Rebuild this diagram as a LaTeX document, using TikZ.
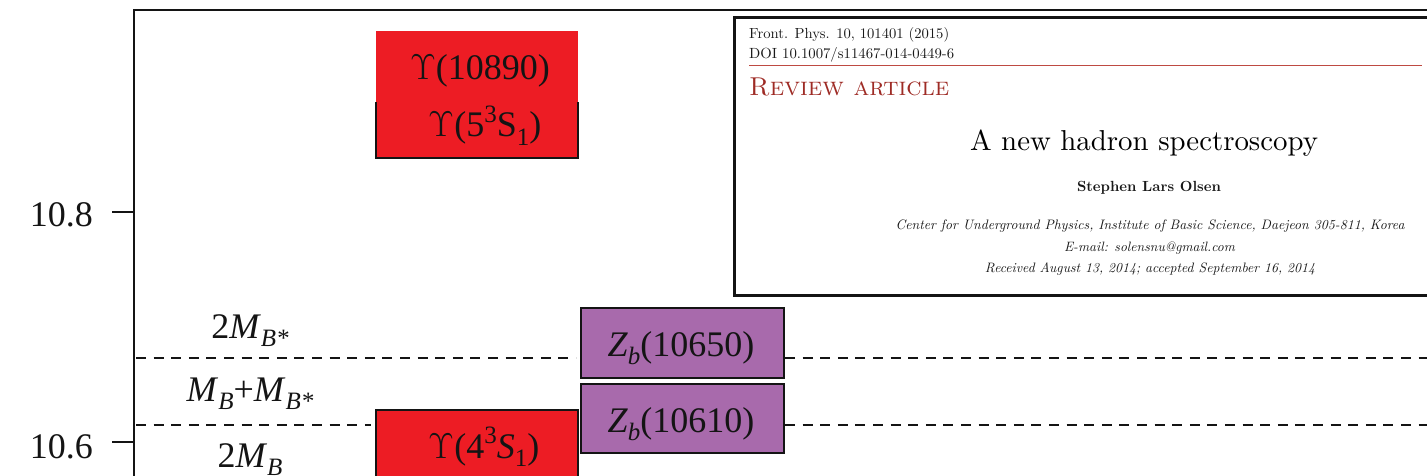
\documentclass[tikz,border=0pt]{standalone}
\usepackage{fontspec}
\usepackage{graphicx}
\newfontfamily\tnr{Liberation Serif}
\definecolor{upsred}{HTML}{ED1C24}
\definecolor{zpurple}{HTML}{A86AAC}
\definecolor{revred}{HTML}{9E2B25}
\definecolor{rulered}{HTML}{BE4A42}
\definecolor{ink}{HTML}{141414}
\newcommand{\lsub}[1]{\raisebox{-0.24em}{\fontsize{25}{25}\selectfont #1}}
\newcommand{\usup}[1]{\raisebox{0.40em}{\fontsize{25}{25}\selectfont #1}}
\newcommand{\Ups}{{\normalfont Υ}}
\begin{document}
\begin{tikzpicture}[x=1pt,y=-1pt,
  big/.style={font=\tnr\fontsize{36}{40}\selectfont, inner sep=0pt, text=ink},
  frame/.style={line width=2pt, draw=ink},
  level/.style={line width=2pt, draw=ink, dash pattern=on 10pt off 7.6pt},
  boxline/.style={line width=2pt, draw=ink},
  upsbox/.style={fill=upsred, inner sep=0pt},
  zbox/.style={fill=zpurple, draw=ink, line width=2pt, inner sep=0pt, minimum width=203pt, minimum height=70pt},
  paper/.style={inner sep=0pt, text=black!90}
]
\useasboundingbox (0,0) rectangle (1427,476);
\clip (0,0) rectangle (1427,476);

% frame
\coordinate (origin) at (134,477);
\coordinate (topleft) at (134,10);
\coordinate (topright) at (1430,10);
\draw[frame] (origin) -- (topleft) -- (topright);

% ticks
\coordinate (t8) at (134,212);
\draw[frame] (t8) -- ++(-22,0);
\node[big, anchor=base east] (l8) at (93,226) {10.8};
\coordinate (t6) at (134,442);
\draw[frame] (t6) -- ++(-22,0);
\node[big, anchor=base east] (l6) at (93,458) {10.6};

% upper Upsilon box
\node[upsbox, minimum width=202pt, minimum height=127pt] (u5) at (477,94.5) {};
\draw[boxline] (u5.south west) ++(0,-56) -- (u5.south west) -- (u5.south east) -- ++(0,-56);
\node[big, anchor=base] (u5a) at (480,80) {\Ups(10890)};
\node[big, anchor=base] (u5b) at (485,137) {\Ups(5\usup{3}S\lsub{1})};

% lower Upsilon box
\node[upsbox, draw=ink, line width=2pt, minimum width=202pt, minimum height=120pt, anchor=north] (u4) at (477,409) {};
\node[big, anchor=base] (u4t) at (484,458) {\Ups(4\usup{3}\textit{S}\lsub{1})};

% Zb boxes
\node[zbox] (z650) at (682.5,343) {};
\node[zbox, minimum height=69pt] (z610) at (682.5,418.5) {};
\node[big, anchor=base] (z650t) at (681,356) {\textit{Z}\lsub{\itshape b}(10650)};
\node[big, anchor=base] (z610t) at (681,432) {\textit{Z}\lsub{\itshape b}(10610)};

% thresholds
\coordinate (a1) at (136,358);
\coordinate (a1e) at (576,358);
\coordinate (b1) at (1430,358);
\draw[level] (a1) -- (a1e);
\draw[level] (z650.east |- a1) -- (b1);
\coordinate (a2) at (136,425);
\coordinate (a2e) at (371,425);
\coordinate (b2) at (1430,425);
\draw[level] (a2) -- (a2e);
\draw[level] (z610.east |- a2) -- (b2);

\node[big, anchor=base] (mbs) at (250,338) {2\textit{M}\lsub{\itshape B*}};
\node[big, anchor=base] (mbmbs) at (250,401) {\textit{M}\lsub{\itshape B}+\textit{M}\lsub{\itshape B*}};
\node[big, anchor=base] (mb) at (250,467) {2\textit{M}\lsub{\itshape B}};

% paper inset
\coordinate (p1) at (1440,18);
\coordinate (p2) at (734,18);
\coordinate (p3) at (734,295);
\coordinate (p4) at (1440,295);
\draw[line width=3pt, draw=ink] (p1) -- (p2) -- (p3) -- (p4);
\node[paper, anchor=west] (fp) at (749,35) {\resizebox{200pt}{!}{Front. Phys. 10, 101401 (2015)}};
\node[paper, anchor=west] (doi) at (749,55) {\resizebox{205pt}{!}{DOI 10.1007/s11467-014-0449-6}};
\coordinate (r1) at (749,65.5);
\coordinate (r2) at (1422,65.5);
\draw[rulered, line width=1.8pt] (r1) -- (r2);
\node[paper, anchor=west, text=revred] (rev) at (749,87) {\resizebox{200pt}{!}{\textsc{Review article}}};
\node[paper, text=black] (title) at (1144,143) {\resizebox{348pt}{!}{A new hadron spectroscopy}};
\node[paper] (auth) at (1149,188) {\resizebox{144pt}{!}{\bfseries Stephen Lars Olsen}};
\node[paper] (aff) at (1150,226) {\resizebox{509pt}{!}{\itshape Center for Underground Physics, Institute of Basic Science, Daejeon 305-811, Korea}};
\node[paper] (mail) at (1149.5,248) {\resizebox{171pt}{!}{\itshape E-mail: solensnu@gmail.com}};
\node[paper] (rec) at (1150,269) {\resizebox{330pt}{!}{\itshape Received August 13, 2014; accepted September 16, 2014}};
\end{tikzpicture}
\end{document}
